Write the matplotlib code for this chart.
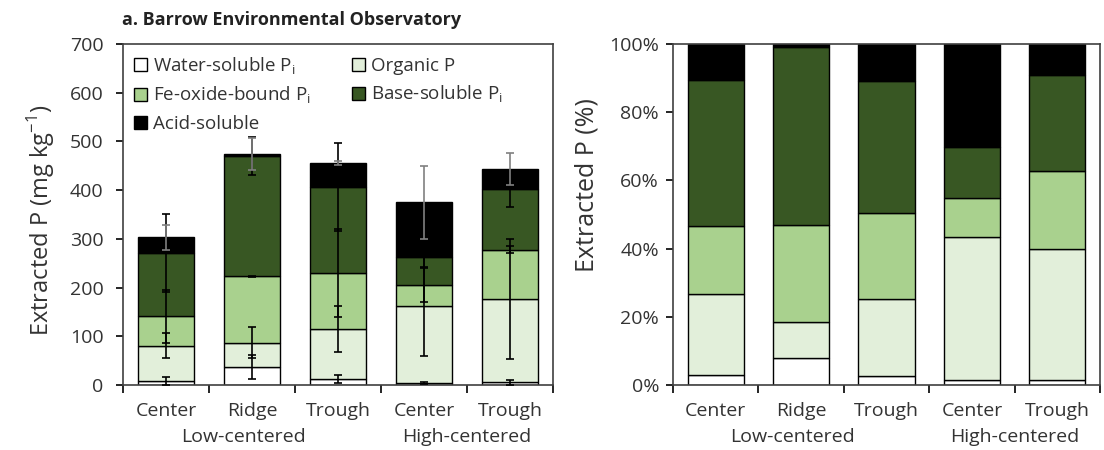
import matplotlib
matplotlib.use("Agg")
import matplotlib.pyplot as plt
import numpy as np

plt.rcParams['font.family'] = ['Open Sans', 'DejaVu Sans']
plt.rcParams['mathtext.fontset'] = 'custom'
plt.rcParams['mathtext.rm'] = 'Open Sans'

sites = ["Center", "Ridge", "Trough", "Center", "Trough"]
groups = ["Low-centered", "High-centered"]

# component amounts, mg P per kg (stacked bottom to top)
water = [9, 37, 12, 5, 6]
organic = [72, 50, 103, 158, 171]
fe_oxide = [60, 136, 115, 43, 101]
base_sol = [130, 247, 176, 56, 125]
acid_sol = [32, 4, 50, 113, 41]

# error bar half-widths for each component
water_err = [8, 25, 8, 2, 5]
organic_err = [25, 32, 47, 103, 123]
fe_err = [55, 1, 90, 35, 8]
base_err = [81, 39, 90, 19, 38]
acid_err = [25, 33, 4, 75, 33]

names = [r"Water-soluble P$_\mathregular{i}$", "Organic P",
         r"Fe-oxide-bound P$_\mathregular{i}$", r"Base-soluble P$_\mathregular{i}$",
         "Acid-soluble"]
colors = ["#FFFFFF", "#E2EFDA", "#A9D18E", "#385723", "#000000"]
err_colors = ["black", "black", "black", "black", "#808080"]

parts = np.array([water, organic, fe_oxide, base_sol, acid_sol], dtype=float)
errs = np.array([water_err, organic_err, fe_err, base_err, acid_err], dtype=float)
pct = parts / parts.sum(axis=0) * 100

fig = plt.figure(figsize=(11.04, 4.5), dpi=100)
ax1 = fig.add_axes([123/1104, 65/450, 430/1104, 341/450])
ax2 = fig.add_axes([673/1104, 65/450, 427/1104, 341/450])

x = np.arange(len(sites))
w = 0.66
txt = "#333333"

handles = []
bottom = np.zeros(len(sites))
for i in range(5):
    b = ax1.bar(x, parts[i], w, bottom=bottom, color=colors[i],
                edgecolor="black", linewidth=1, zorder=2)
    handles.append(b)
    bottom = bottom + parts[i]
    ax1.errorbar(x, bottom, yerr=errs[i], fmt="none", ecolor=err_colors[i],
                 elinewidth=1.2, capsize=3, capthick=1.2, zorder=3)

bottom = np.zeros(len(sites))
for i in range(5):
    ax2.bar(x, pct[i], w, bottom=bottom, color=colors[i],
            edgecolor="black", linewidth=1, zorder=2)
    bottom = bottom + pct[i]

for ax in (ax1, ax2):
    ax.set_xlim(-0.5, 4.5)
    ax.set_xticks(np.arange(-0.5, 5.0, 1.0))
    ax.set_xticklabels([])
    ax.set_xticks(x, minor=True)
    ax.set_xticklabels(sites, minor=True, fontsize=14, color=txt)
    ax.tick_params(axis="x", which="major", direction="out", length=6, width=1.2)
    ax.tick_params(axis="x", which="minor", length=0, pad=12)
    ax.tick_params(axis="y", direction="out", length=5, width=1.2,
                   labelsize=14, labelcolor=txt)
    for s in ax.spines.values():
        s.set_linewidth(1.2)
        s.set_color("#404040")
    ax.text(0.9, -0.125, groups[0], transform=ax.get_xaxis_transform(),
            ha="center", va="top", fontsize=14, color=txt)
    ax.text(3.5, -0.125, groups[1], transform=ax.get_xaxis_transform(),
            ha="center", va="top", fontsize=14, color=txt)

ax1.tick_params(axis="y", pad=9)
ax2.tick_params(axis="y", pad=5)

ax1.set_ylim(0, 700)
ax1.set_yticks(np.arange(0, 701, 100))
ax1.set_ylabel(r"Extracted P (mg kg$^{\mathregular{-1}}$)", fontsize=17, color=txt)
ax1.yaxis.set_label_coords(-0.153, 0.484)

ax2.set_ylim(0, 100)
ax2.set_yticks(np.arange(0, 101, 20))
ax2.set_yticklabels([f"{v}%" for v in range(0, 101, 20)])
ax2.set_ylabel("Extracted P (%)", fontsize=18, color=txt)
ax2.yaxis.set_label_coords(-0.171, 0.587)

order = [0, 2, 4, 1, 3]
ax1.legend([handles[i] for i in order], [names[i] for i in order], ncol=2,
           loc="upper left", frameon=False, fontsize=13.5, handlelength=0.7,
           handleheight=0.7, handletextpad=0.3, columnspacing=2.2,
           labelspacing=0.45, borderaxespad=0.2, borderpad=0.4,
           labelcolor=txt)

fig.text(122/1104, 1 - 20/450, "a. Barrow Environmental Observatory",
         fontsize=13, fontweight="bold", ha="left", va="center", color="#222222")

fig.savefig("out.png", dpi=100)
